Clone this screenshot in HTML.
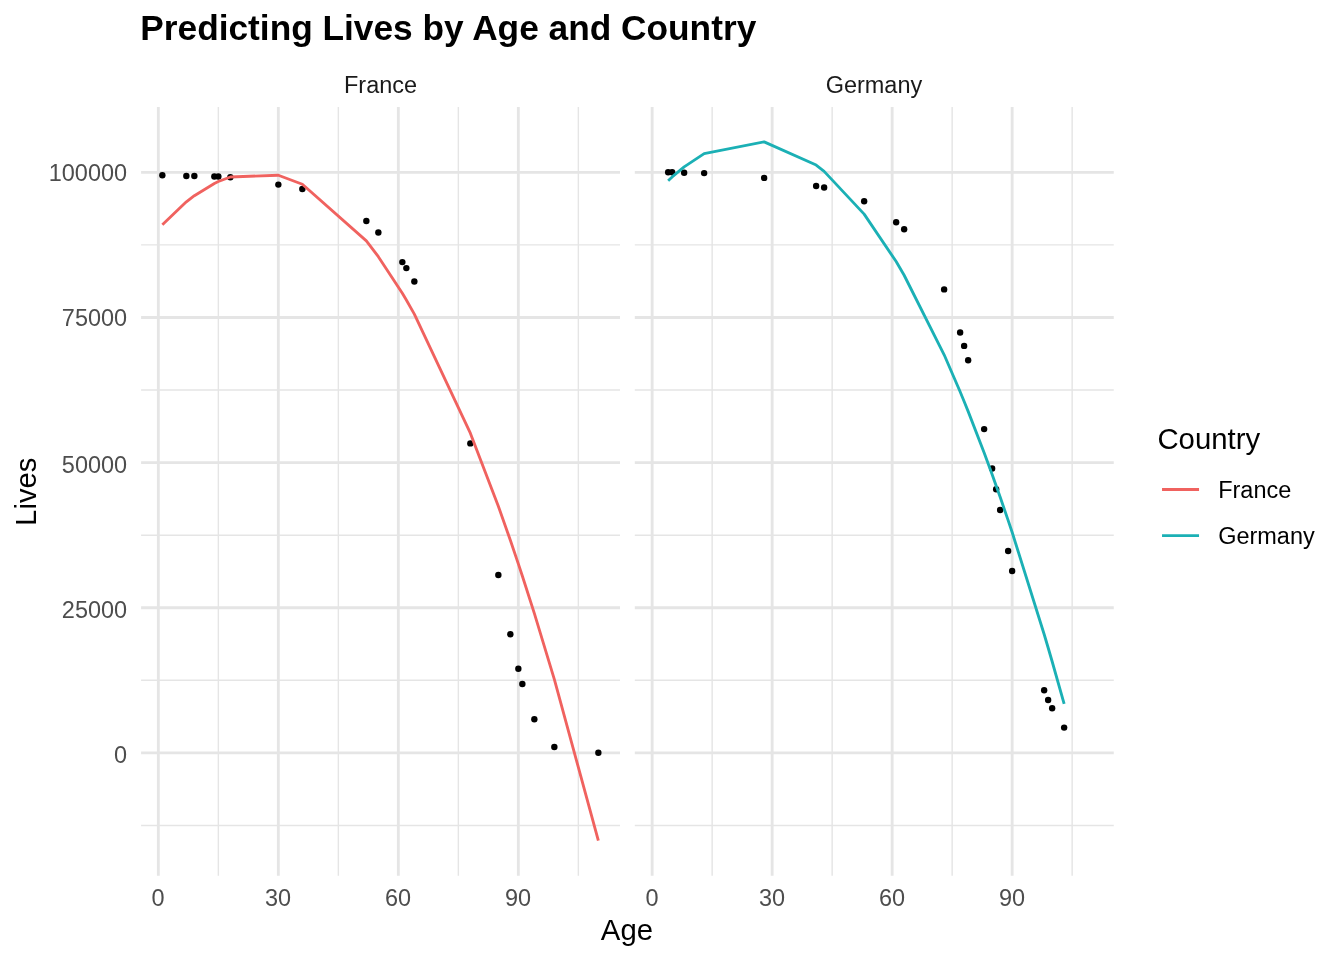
<!DOCTYPE html>
<html lang="en"><head><meta charset="utf-8"><title>Predicting Lives by Age and Country</title>
<style>
html,body{margin:0;padding:0;background:#fff;}
body{width:1344px;height:960px;overflow:hidden;}
svg{display:block;will-change:transform;}
text{font-family:"Liberation Sans", Arial, Helvetica, sans-serif;}
.tick{font-size:23.47px;fill:#4D4D4D;}
.strip{font-size:23.47px;fill:#1A1A1A;}
.leg{font-size:23.47px;fill:#000;}
.axt{font-size:29.33px;fill:#000;}
.title{font-size:35.28px;font-weight:bold;fill:#000;}
</style></head><body>
<svg width="1344" height="960" viewBox="0 0 1344 960">
<rect width="1344" height="960" fill="#fff"/>
<text class="title" x="140.3" y="40">Predicting Lives by Age and Country</text>
<g>
<line x1="141.1" x2="620.0" y1="244.90" y2="244.90" stroke="#E5E5E5" stroke-width="1.42"/>
<line x1="141.1" x2="620.0" y1="390.04" y2="390.04" stroke="#E5E5E5" stroke-width="1.42"/>
<line x1="141.1" x2="620.0" y1="535.17" y2="535.17" stroke="#E5E5E5" stroke-width="1.42"/>
<line x1="141.1" x2="620.0" y1="680.33" y2="680.33" stroke="#E5E5E5" stroke-width="1.42"/>
<line x1="141.1" x2="620.0" y1="825.47" y2="825.47" stroke="#E5E5E5" stroke-width="1.42"/>
<line x1="218.35" x2="218.35" y1="107.1" y2="875.7" stroke="#E5E5E5" stroke-width="1.42"/>
<line x1="338.35" x2="338.35" y1="107.1" y2="875.7" stroke="#E5E5E5" stroke-width="1.42"/>
<line x1="458.35" x2="458.35" y1="107.1" y2="875.7" stroke="#E5E5E5" stroke-width="1.42"/>
<line x1="578.35" x2="578.35" y1="107.1" y2="875.7" stroke="#E5E5E5" stroke-width="1.42"/>
<line x1="141.1" x2="620.0" y1="172.33" y2="172.33" stroke="#E5E5E5" stroke-width="2.85"/>
<line x1="141.1" x2="620.0" y1="317.47" y2="317.47" stroke="#E5E5E5" stroke-width="2.85"/>
<line x1="141.1" x2="620.0" y1="462.60" y2="462.60" stroke="#E5E5E5" stroke-width="2.85"/>
<line x1="141.1" x2="620.0" y1="607.75" y2="607.75" stroke="#E5E5E5" stroke-width="2.85"/>
<line x1="141.1" x2="620.0" y1="752.90" y2="752.90" stroke="#E5E5E5" stroke-width="2.85"/>
<line x1="158.35" x2="158.35" y1="107.1" y2="875.7" stroke="#E5E5E5" stroke-width="2.85"/>
<line x1="278.35" x2="278.35" y1="107.1" y2="875.7" stroke="#E5E5E5" stroke-width="2.85"/>
<line x1="398.35" x2="398.35" y1="107.1" y2="875.7" stroke="#E5E5E5" stroke-width="2.85"/>
<line x1="518.35" x2="518.35" y1="107.1" y2="875.7" stroke="#E5E5E5" stroke-width="2.85"/>
<circle cx="162.35" cy="175.20" r="3.2" fill="#000"/>
<circle cx="186.35" cy="176.00" r="3.2" fill="#000"/>
<circle cx="194.35" cy="176.00" r="3.2" fill="#000"/>
<circle cx="214.35" cy="176.50" r="3.2" fill="#000"/>
<circle cx="218.35" cy="176.50" r="3.2" fill="#000"/>
<circle cx="230.35" cy="177.30" r="3.2" fill="#000"/>
<circle cx="278.35" cy="184.60" r="3.2" fill="#000"/>
<circle cx="302.35" cy="189.00" r="3.2" fill="#000"/>
<circle cx="366.35" cy="221.00" r="3.2" fill="#000"/>
<circle cx="378.35" cy="232.50" r="3.2" fill="#000"/>
<circle cx="402.35" cy="262.10" r="3.2" fill="#000"/>
<circle cx="406.35" cy="268.10" r="3.2" fill="#000"/>
<circle cx="414.35" cy="281.50" r="3.2" fill="#000"/>
<circle cx="470.35" cy="443.40" r="3.2" fill="#000"/>
<circle cx="498.35" cy="575.00" r="3.2" fill="#000"/>
<circle cx="510.35" cy="634.30" r="3.2" fill="#000"/>
<circle cx="518.35" cy="668.70" r="3.2" fill="#000"/>
<circle cx="522.35" cy="684.00" r="3.2" fill="#000"/>
<circle cx="534.35" cy="719.30" r="3.2" fill="#000"/>
<circle cx="554.35" cy="747.00" r="3.2" fill="#000"/>
<circle cx="598.35" cy="752.70" r="3.2" fill="#000"/>
<polyline points="162.35,224.78 186.35,201.83 194.35,195.66 214.35,183.43 218.35,181.54 230.35,176.96 278.35,175.22 302.35,184.28 366.35,240.83 378.35,256.68 402.35,293.34 406.35,300.09 414.35,314.15 470.35,433.17 498.35,506.21 510.35,540.27 518.35,563.89 522.35,575.98 534.35,613.36 554.35,679.32 598.35,840.63" fill="none" stroke="#F0625F" stroke-width="2.85" stroke-linejoin="round" stroke-linecap="butt"/>
<text class="strip" x="380.55" y="92.9" text-anchor="middle">France</text>
<text class="tick" x="157.95" y="906.1" text-anchor="middle">0</text>
<text class="tick" x="277.95" y="906.1" text-anchor="middle">30</text>
<text class="tick" x="397.95" y="906.1" text-anchor="middle">60</text>
<text class="tick" x="517.95" y="906.1" text-anchor="middle">90</text>
</g>
<g>
<line x1="634.8" x2="1113.75" y1="244.90" y2="244.90" stroke="#E5E5E5" stroke-width="1.42"/>
<line x1="634.8" x2="1113.75" y1="390.04" y2="390.04" stroke="#E5E5E5" stroke-width="1.42"/>
<line x1="634.8" x2="1113.75" y1="535.17" y2="535.17" stroke="#E5E5E5" stroke-width="1.42"/>
<line x1="634.8" x2="1113.75" y1="680.33" y2="680.33" stroke="#E5E5E5" stroke-width="1.42"/>
<line x1="634.8" x2="1113.75" y1="825.47" y2="825.47" stroke="#E5E5E5" stroke-width="1.42"/>
<line x1="712.15" x2="712.15" y1="107.1" y2="875.7" stroke="#E5E5E5" stroke-width="1.42"/>
<line x1="832.15" x2="832.15" y1="107.1" y2="875.7" stroke="#E5E5E5" stroke-width="1.42"/>
<line x1="952.15" x2="952.15" y1="107.1" y2="875.7" stroke="#E5E5E5" stroke-width="1.42"/>
<line x1="1072.15" x2="1072.15" y1="107.1" y2="875.7" stroke="#E5E5E5" stroke-width="1.42"/>
<line x1="634.8" x2="1113.75" y1="172.33" y2="172.33" stroke="#E5E5E5" stroke-width="2.85"/>
<line x1="634.8" x2="1113.75" y1="317.47" y2="317.47" stroke="#E5E5E5" stroke-width="2.85"/>
<line x1="634.8" x2="1113.75" y1="462.60" y2="462.60" stroke="#E5E5E5" stroke-width="2.85"/>
<line x1="634.8" x2="1113.75" y1="607.75" y2="607.75" stroke="#E5E5E5" stroke-width="2.85"/>
<line x1="634.8" x2="1113.75" y1="752.90" y2="752.90" stroke="#E5E5E5" stroke-width="2.85"/>
<line x1="652.15" x2="652.15" y1="107.1" y2="875.7" stroke="#E5E5E5" stroke-width="2.85"/>
<line x1="772.15" x2="772.15" y1="107.1" y2="875.7" stroke="#E5E5E5" stroke-width="2.85"/>
<line x1="892.15" x2="892.15" y1="107.1" y2="875.7" stroke="#E5E5E5" stroke-width="2.85"/>
<line x1="1012.15" x2="1012.15" y1="107.1" y2="875.7" stroke="#E5E5E5" stroke-width="2.85"/>
<circle cx="668.15" cy="172.30" r="3.2" fill="#000"/>
<circle cx="672.15" cy="172.30" r="3.2" fill="#000"/>
<circle cx="684.15" cy="172.70" r="3.2" fill="#000"/>
<circle cx="704.15" cy="173.10" r="3.2" fill="#000"/>
<circle cx="764.15" cy="177.90" r="3.2" fill="#000"/>
<circle cx="816.15" cy="186.00" r="3.2" fill="#000"/>
<circle cx="824.15" cy="187.50" r="3.2" fill="#000"/>
<circle cx="864.15" cy="201.25" r="3.2" fill="#000"/>
<circle cx="896.15" cy="222.30" r="3.2" fill="#000"/>
<circle cx="904.15" cy="229.30" r="3.2" fill="#000"/>
<circle cx="944.15" cy="289.40" r="3.2" fill="#000"/>
<circle cx="960.15" cy="332.50" r="3.2" fill="#000"/>
<circle cx="964.15" cy="345.90" r="3.2" fill="#000"/>
<circle cx="968.15" cy="360.30" r="3.2" fill="#000"/>
<circle cx="984.15" cy="429.10" r="3.2" fill="#000"/>
<circle cx="992.15" cy="468.50" r="3.2" fill="#000"/>
<circle cx="996.15" cy="489.30" r="3.2" fill="#000"/>
<circle cx="1000.15" cy="510.00" r="3.2" fill="#000"/>
<circle cx="1008.15" cy="551.00" r="3.2" fill="#000"/>
<circle cx="1012.15" cy="571.00" r="3.2" fill="#000"/>
<circle cx="1044.15" cy="690.30" r="3.2" fill="#000"/>
<circle cx="1048.15" cy="700.00" r="3.2" fill="#000"/>
<circle cx="1052.15" cy="708.30" r="3.2" fill="#000"/>
<circle cx="1064.15" cy="727.60" r="3.2" fill="#000"/>
<polyline points="668.15,180.67 672.15,176.93 684.15,166.83 704.15,153.68 764.15,141.83 816.15,165.06 824.15,171.40 864.15,214.12 896.15,261.56 904.15,275.26 944.15,354.80 960.15,391.77 964.15,401.48 968.15,411.36 984.15,452.75 992.15,474.55 996.15,485.73 1000.15,497.09 1008.15,520.36 1012.15,532.27 1044.15,634.20 1048.15,647.77 1052.15,661.52 1064.15,703.88" fill="none" stroke="#1BB0B5" stroke-width="2.85" stroke-linejoin="round" stroke-linecap="butt"/>
<text class="strip" x="873.92" y="92.9" text-anchor="middle">Germany</text>
<text class="tick" x="652.00" y="906.1" text-anchor="middle">0</text>
<text class="tick" x="772.00" y="906.1" text-anchor="middle">30</text>
<text class="tick" x="892.00" y="906.1" text-anchor="middle">60</text>
<text class="tick" x="1012.00" y="906.1" text-anchor="middle">90</text>
</g>
<text class="tick" x="127.1" y="181.30" text-anchor="end">100000</text>
<text class="tick" x="127.1" y="326.40" text-anchor="end">75000</text>
<text class="tick" x="127.1" y="472.65" text-anchor="end">50000</text>
<text class="tick" x="127.1" y="617.65" text-anchor="end">25000</text>
<text class="tick" x="127.1" y="762.75" text-anchor="end">0</text>
<text class="axt" x="626.95" y="940" text-anchor="middle">Age</text>
<text class="axt" transform="translate(35.7,491.7) rotate(-90)" text-anchor="middle">Lives</text>
<text class="axt" x="1157.4" y="449.2">Country</text>
<line x1="1162.03" x2="1199.05" y1="489.5" y2="489.5" stroke="#F0625F" stroke-width="2.85"/>
<text class="leg" x="1218.2" y="497.80">France</text>
<line x1="1162.03" x2="1199.05" y1="535.6" y2="535.6" stroke="#1BB0B5" stroke-width="2.85"/>
<text class="leg" x="1218.2" y="543.90">Germany</text>
</svg></body></html>
